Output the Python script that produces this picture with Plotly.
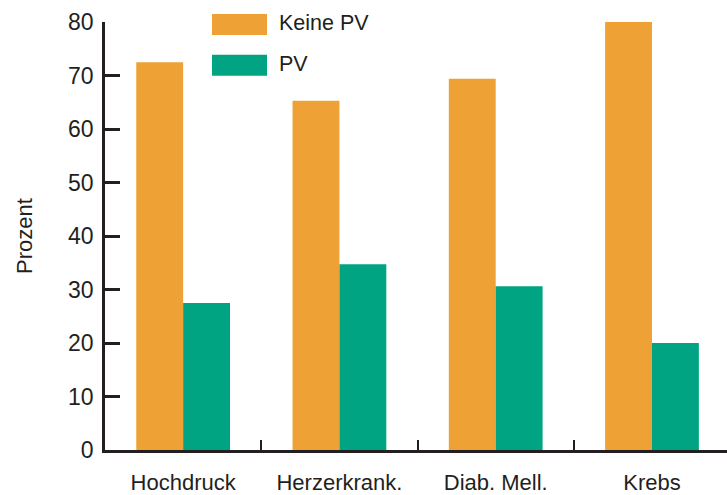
import plotly.graph_objects as go

# Data
categories = ["Hochdruck", "Herzerkrank.", "Diab. Mell.", "Krebs"]
keine_pv = [72.5, 65.3, 69.4, 80.0]
pv = [27.5, 34.7, 30.6, 20.0]
series_names = ["Keine PV", "PV"]
series_colors = ["#EEA236", "#00A482"]
y_ticks = [0, 10, 20, 30, 40, 50, 60, 70, 80]

W, H = 727, 495
L, R, T, B = 105, 0, 22, 43
FONT = "Liberation Sans, Arial, sans-serif"
INK = "#231F20"

fig = go.Figure()
for name, vals, col in zip(series_names, [keine_pv, pv], series_colors):
    fig.add_trace(go.Bar(x=categories, y=vals, name=name, marker_color=col,
                         marker_line_width=0, showlegend=False))

# pixel -> paper helpers for the hand-drawn legend
pw, ph = W - L - R, H - T - B
def px_x(x):
    return (x - L) / pw
def px_y(y):
    return (H - B - y) / ph

legend_rows = [(14, 35), (55, 76)]
for (y0, y1), name, col in zip(legend_rows, series_names, series_colors):
    fig.add_shape(type="rect", xref="paper", yref="paper",
                  x0=px_x(212), x1=px_x(267), y0=px_y(y1), y1=px_y(y0),
                  fillcolor=col, line_width=0)
    fig.add_annotation(xref="paper", yref="paper", x=px_x(277), y=px_y((y0 + y1) / 2 - 1.5),
                       text=name, showarrow=False, xanchor="left", yanchor="middle",
                       font=dict(family=FONT, size=21.5, color=INK))

fig.update_layout(
    width=W, height=H,
    margin=dict(l=L, r=R, t=T, b=B, pad=0),
    paper_bgcolor="white", plot_bgcolor="white",
    barmode="group", bargap=0.4, bargroupgap=0,
    font=dict(family=FONT, color=INK),
    xaxis=dict(range=[-0.5, 3.48], tickson="boundaries", ticks="inside", ticklen=10,
               tickwidth=2, tickcolor=INK, showline=True, linecolor=INK, linewidth=2.5,
               showgrid=False, tickfont=dict(size=22, color=INK), ticklabelstandoff=11),
    yaxis=dict(range=[0, 80], tickvals=y_ticks, ticks="inside", ticklen=15, tickwidth=2.5,
               tickcolor=INK, showline=True, linecolor=INK, linewidth=2.5, showgrid=False,
               zeroline=False, tickfont=dict(size=23, color=INK), ticklabelstandoff=4,
               title=dict(text="Prozent", font=dict(size=22, color=INK), standoff=30)),
)

fig.write_html("out.html")
